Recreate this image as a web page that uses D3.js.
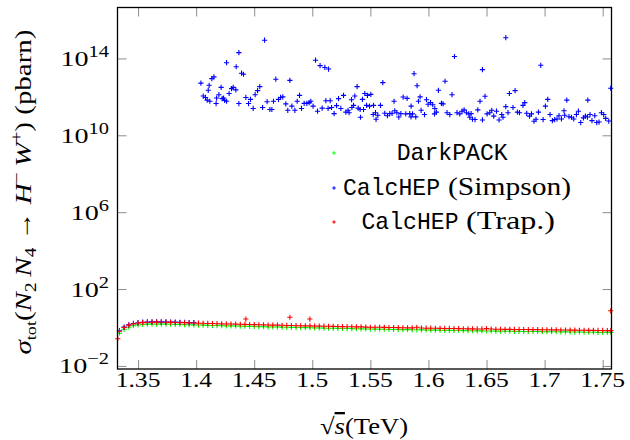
<!DOCTYPE html>
<html>
<head>
<meta charset="utf-8">
<script src="https://cdn.jsdelivr.net/npm/d3@7/dist/d3.min.js"></script>
<style>
  body { margin: 0; background: #fff; }
  svg { display: block; }
</style>
</head>
<body>
<div id="chart"></div>
<script>
// sqrt(s) grid (TeV) shared by the DarkPACK and trapezoid runs
const sqrtS = [
  1.334, 1.338, 1.342, 1.346, 1.350, 1.354, 1.358, 1.362, 1.366, 1.370,
  1.374, 1.378, 1.382, 1.386, 1.390, 1.394, 1.398, 1.402, 1.406, 1.410,
  1.414, 1.418, 1.422, 1.426, 1.430, 1.434, 1.438, 1.442, 1.446, 1.450,
  1.454, 1.458, 1.462, 1.466, 1.470, 1.474, 1.478, 1.482, 1.486, 1.490,
  1.494, 1.498, 1.502, 1.506, 1.510, 1.514, 1.518, 1.522, 1.526, 1.530,
  1.534, 1.538, 1.542, 1.546, 1.550, 1.554, 1.558, 1.562, 1.566, 1.570,
  1.574, 1.578, 1.582, 1.586, 1.590, 1.594, 1.598, 1.602, 1.606, 1.610,
  1.614, 1.618, 1.622, 1.626, 1.630, 1.634, 1.638, 1.642, 1.646, 1.650,
  1.654, 1.658, 1.662, 1.666, 1.670, 1.674, 1.678, 1.682, 1.686, 1.690,
  1.694, 1.698, 1.702, 1.706, 1.710, 1.714, 1.718, 1.722, 1.726, 1.730,
  1.734, 1.738, 1.742, 1.746, 1.750, 1.754, 1.757
];

// sigma_tot in pbarn
const darkpack = [
  0.50, 0.80, 1.05, 1.24, 1.36, 1.44, 1.49, 1.50, 1.50, 1.50,
  1.49, 1.47, 1.45, 1.43, 1.41, 1.38, 1.36, 1.34, 1.32, 1.29,
  1.28, 1.26, 1.24, 1.22, 1.21, 1.20, 1.18, 1.16, 1.14, 1.13,
  1.11, 1.10, 1.08, 1.06, 1.06, 1.04, 1.02, 1.01, 0.99, 0.99,
  0.98, 0.97, 0.95, 0.94, 0.93, 0.92, 0.91, 0.90, 0.89, 0.88,
  0.87, 0.86, 0.85, 0.84, 0.83, 0.82, 0.81, 0.81, 0.80, 0.79,
  0.78, 0.77, 0.77, 0.76, 0.76, 0.75, 0.74, 0.73, 0.73, 0.72,
  0.71, 0.71, 0.70, 0.70, 0.69, 0.68, 0.68, 0.67, 0.67, 0.66,
  0.66, 0.65, 0.65, 0.64, 0.64, 0.63, 0.63, 0.62, 0.62, 0.62,
  0.62, 0.61, 0.61, 0.60, 0.60, 0.59, 0.59, 0.585, 0.58, 0.58,
  0.57, 0.57, 0.57, 0.56, 0.56, 0.555, 0.55
];

const trapezoid = [
  0.64, 1.00, 1.32, 1.55, 1.70, 1.80, 1.86, 1.88, 1.88, 1.88,
  1.86, 1.84, 1.81, 1.78, 1.76, 1.73, 1.70, 1.67, 1.65, 1.62,
  1.60, 1.57, 1.55, 1.53, 1.51, 1.50, 1.47, 1.45, 1.43, 1.41,
  1.39, 1.37, 1.35, 1.33, 1.32, 1.30, 1.28, 1.26, 1.24, 1.23,
  1.22, 1.21, 1.19, 1.18, 1.17, 1.15, 1.14, 1.12, 1.11, 1.10,
  1.09, 1.08, 1.07, 1.05, 1.03, 1.02, 1.02, 1.01, 1.00, 0.99,
  0.98, 0.97, 0.96, 0.95, 1.02, 0.94, 0.92, 0.92, 0.91, 0.90,
  0.89, 0.89, 0.88, 0.87, 0.86, 0.85, 0.85, 0.84, 0.84, 0.87,
  0.83, 0.81, 0.81, 0.80, 0.80, 0.79, 0.79, 0.78, 0.78, 0.77,
  0.77, 0.76, 0.76, 0.75, 0.75, 0.74, 0.74, 0.73, 0.73, 0.72,
  0.72, 0.71, 0.71, 0.70, 0.70, 0.69, 0.69
];

// stray trapezoid points off the curve
const trapExtraX = [1.3325, 1.4428, 1.4807, 1.4979, 1.7569];
const trapExtraY = [0.26, 2.75, 3.4, 2.75, 7.4];

// Simpson rule: [sqrt(s), sigma]
const simpson = [
  [1.334,0.68],[1.338,1.05],[1.342,1.38],[1.346,1.62],[1.350,1.78],[1.354,1.88],[1.358,1.94],[1.362,1.96],
  [1.366,1.97],[1.370,1.96],[1.374,1.94],[1.378,1.92],[1.382,1.89],[1.386,1.86],[1.390,1.83],[1.394,1.80],[1.398,1.77],
  [1.4589,8.9e14],[1.4368,2.0e14],[1.4262,6.0e13],[1.4345,3.7e13],[1.4391,1.7e13],[1.4408,1.5e13],[1.4041,5.2e12],
  [1.4153,1.1e13],[1.4135,8.9e12],[1.4112,4.0e12],[1.4104,2.2e12],[1.4215,3.1e12],[1.4319,3.1e12],[1.4305,2.7e12],
  [1.4342,2.3e12],[1.4284,1.5e12],[1.4061,1.1e12],[1.4081,9.3e11],[1.4095,6.8e11],[1.4118,5.9e11],[1.4176,8.7e11],
  [1.4172,4.5e11],[1.4196,1.3e12],[1.4224,8.1e11],[1.4236,8.7e11],[1.4245,6.6e11],[1.4262,5.9e11],[1.4368,4.5e11],
  [1.4428,9.3e11],[1.4451,4.5e11],[1.4468,7.4e11],[1.4491,2.5e11],[1.4508,1.3e12],[1.4529,2.1e12],[1.4548,3.4e12],
  [1.4572,2.8e11],[1.4611,5.6e11],[1.4635,2.2e11],[1.4652,2.2e11],[1.4686,8.3e12],[1.4666,5.9e11],[1.4709,7.4e11],
  [1.4727,9.3e11],[1.4746,1.0e12],[1.4772,4.3e11],[1.4807,7.2e12],[1.4789,2.0e11],[1.4824,3.3e11],[1.4850,2.0e11],
  [1.4870,5.9e11],[1.4890,1.2e12],
  [1.5028,8.1e13],[1.5067,4.2e13],[1.5108,3.4e13],[1.5140,2.8e13],[1.4907,2.5e11],[1.4930,4.6e11],[1.4953,4.6e11],
  [1.4973,5.0e11],[1.4987,5.9e11],[1.5007,3.3e11],[1.5045,1.8e11],[1.5085,2.6e11],[1.5117,6.3e11],[1.5154,6.3e11],
  [1.5136,2.5e11],[1.5166,2.8e11],[1.5188,1.35e11],[1.5209,3.5e11],[1.5226,8.1e11],[1.5246,2.5e11],[1.5269,1.2e12],
  [1.5289,1.6e11],[1.5308,2.0e11],[1.5317,1.5e11],[1.5338,7.1e11],[1.5341,2.8e11],[1.5355,3.6e11],[1.5366,1.1e12],
  [1.5386,3.4e12],[1.5395,2.6e11],[1.5412,2.2e11],[1.5415,8.7e10],[1.5432,7.4e11],[1.5441,2.2e11],[1.5452,1.5e12],
  [1.5475,1.2e12],[1.5504,1.35e12],[1.5467,3.6e11],[1.5493,3.3e11],[1.5527,3.6e11],[1.5524,1.2e11],[1.5544,1.5e11],
  [1.5564,1.1e11],[1.5549,6.8e10],[1.5587,3.6e11],[1.5607,5.5e12],[1.5624,1.4e11],[1.5647,1.05e11],[1.5667,1.35e11],
  [1.5687,1.4e11],[1.5704,5.9e11],[1.5710,1.9e11],[1.5728,1.5e11],[1.5745,8.9e10],[1.5762,1.35e11],[1.5782,9.8e11],
  [1.6666,1.2e15],[1.6224,1.26e14],[1.6465,2.6e13],[1.5876,1.6e13],[1.5902,3.8e12],[1.6143,6.5e12],[1.6086,2.2e12],
  [1.6203,1.3e12],[1.5816,8.3e11],[1.5928,1.0e12],[1.5914,5.9e11],[1.5851,3.3e11],[1.5983,7.1e11],[1.5997,4.1e11],
  [1.6018,5.0e11],[1.6037,3.9e11],[1.6055,2.5e11],[1.6112,4.6e11],[1.6126,4.3e11],[1.6069,1.6e11],[1.6052,1.3e11],
  [1.5937,2.0e11],[1.5966,1.2e11],[1.5805,1.3e11],[1.5839,1.35e11],[1.5863,1.3e11],[1.5891,9.1e10],[1.5850,9.1e10],
  [1.6160,1.5e11],[1.6184,1.2e11],[1.6246,1.5e11],[1.6270,1.3e11],[1.6289,1.8e11],[1.6307,2.1e11],[1.6327,1.5e11],
  [1.6347,1.3e11],[1.6367,1.35e11],[1.6356,8.7e10],[1.6379,6.9e10],[1.6401,6.6e10],[1.6425,2.1e11],[1.6444,5.9e11],
  [1.6487,1.07e12],[1.6465,6.3e10],[1.6505,1.3e11],[1.6528,1.5e11],[1.6545,2.0e11],[1.6586,1.8e11],[1.6562,1.0e11],
  [1.6608,6.3e10],[1.6631,1.2e11],[1.6642,8.7e10],[1.6666,3.1e11],[1.6685,1.5e11],[1.6697,1.5e12],
  [1.6967,4.4e13],[1.6746,2.1e12],[1.6728,2.8e11],[1.6766,1.6e11],[1.6784,1.5e11],[1.6814,3.6e11],[1.6829,5.0e11],
  [1.6846,1.4e11],[1.6870,1.0e11],[1.6887,1.3e11],[1.6909,5.4e10],[1.6926,6.8e10],[1.6947,1.6e11],[1.6987,6.6e10],
  [1.7007,3.3e11],[1.7027,7.4e11],[1.7047,1.2e11],[1.7067,5.8e10],[1.7087,6.6e10],[1.7107,7.1e10],[1.7124,1.05e11],
  [1.7145,7.1e10],[1.7167,1.9e11],[1.7173,1.1e11],[1.7191,6.8e11],[1.7210,9.3e10],[1.7231,8.7e10],[1.7251,7.1e10],
  [1.7274,1.2e11],[1.7291,1.8e11],[1.7311,4.6e10],[1.7334,8.1e10],[1.7351,1.0e11],[1.7369,8.9e10],[1.7391,1.2e11],
  [1.7432,1.05e11],[1.7372,6.8e11],[1.7408,5.8e10],[1.7449,4.6e10],[1.7469,4.9e10],[1.7489,1.5e11],[1.7509,1.2e11],
  [1.7526,7.6e10],[1.7552,5.5e10],[1.7569,2.8e12]
];

const xTicks = [1.35, 1.4, 1.45, 1.5, 1.55, 1.6, 1.65, 1.7, 1.75];
const yTickExp = [-2, 2, 6, 10, 14];

const width = 630, height = 440;
const plot = { left: 117.5, right: 611.5, top: 7.5, bottom: 369 };

const svg = d3.select("#chart").append("svg")
  .attr("width", width)
  .attr("height", height);

const x = d3.scaleLinear().domain([1.3323, 1.7576]).range([plot.left, plot.right]);
const y = d3.scaleLog().domain([Math.pow(10, -2.16), Math.pow(10, 16.65)]).range([plot.bottom, plot.top]);

// ticks (inward, all four sides)
function tickStyle(g) {
  g.select(".domain").remove();
  g.selectAll(".tick line").attr("stroke", "#808080").attr("stroke-width", 0.9);
}
svg.append("g").attr("transform", `translate(0,${plot.bottom})`)
  .call(d3.axisBottom(x).tickValues(xTicks).tickSizeInner(-9).tickSizeOuter(0).tickFormat(""))
  .call(tickStyle);
svg.append("g").attr("transform", `translate(0,${plot.top})`)
  .call(d3.axisTop(x).tickValues(xTicks).tickSizeInner(-9).tickSizeOuter(0).tickFormat(""))
  .call(tickStyle);
const yTickVals = yTickExp.map(e => Math.pow(10, e));
svg.append("g").attr("transform", `translate(${plot.left},0)`)
  .call(d3.axisLeft(y).tickValues(yTickVals).tickSizeInner(-9).tickSizeOuter(0).tickFormat(""))
  .call(tickStyle);
svg.append("g").attr("transform", `translate(${plot.right},0)`)
  .call(d3.axisRight(y).tickValues(yTickVals).tickSizeInner(-9).tickSizeOuter(0).tickFormat(""))
  .call(tickStyle);

// tick labels, stretched a bit sideways like the source
const serif = "'Liberation Serif', 'Times New Roman', serif";
const mono = "'Liberation Mono', 'DejaVu Sans Mono', monospace";

xTicks.forEach(t => {
  svg.append("text")
    .attr("transform", `translate(${x(t)},387) scale(1.22,1)`)
    .attr("text-anchor", "middle")
    .style("font-family", serif)
    .style("font-size", "21px")
    .text(String(t));
});

yTickExp.forEach(e => {
  const t = svg.append("text")
    .attr("transform", `translate(109,${y(Math.pow(10, e)) + 7.5}) scale(1.28,1)`)
    .attr("text-anchor", "end")
    .style("font-family", serif)
    .style("font-size", "22px");
  t.append("tspan").text("10");
  t.append("tspan").attr("dy", -9).style("font-size", "16px")
    .text(e < 0 ? "\u2212" + Math.abs(e) : String(e));
});

// markers
const plus = h => `M${-h},0H${h}M0,${-h}V${h}`;
function drawSeries(pts, color, h) {
  svg.append("g").selectAll("path")
    .data(pts)
    .enter()
    .append("path")
    .attr("transform", d => `translate(${x(d[0])},${y(d[1])})`)
    .attr("d", plus(h))
    .attr("fill", "none")
    .attr("stroke", color)
    .attr("stroke-width", 1.1);
}

const greenPts = sqrtS.map((s, i) => [s, darkpack[i]]);
const redPts = sqrtS.map((s, i) => [s, trapezoid[i]])
  .concat(trapExtraX.map((s, i) => [s, trapExtraY[i]]));

drawSeries(greenPts, "#00ff00", 2.6);
drawSeries(simpson, "#0000ff", 2.6);
drawSeries(redPts, "#ff0000", 2.6);

// frame
svg.append("rect")
  .attr("x", plot.left).attr("y", plot.top)
  .attr("width", plot.right - plot.left)
  .attr("height", plot.bottom - plot.top)
  .attr("fill", "none")
  .attr("stroke", "#000")
  .attr("stroke-width", 1.3);

// legend: each piece gets its own start and width
const legendColors = ["#00ff00", "#0000ff", "#ff0000"];
const legendBase = [160, 195, 229];
const legendParts = [
  [["DarkPACK", mono, 396.7, 111]],
  [["CalcHEP", mono, 343, 97], ["(Simpson)", serif, 448, 123]],
  [["CalcHEP", mono, 361.5, 97], ["(Trap.)", serif, 466, 89]]
];

legendParts.forEach((parts, i) => {
  svg.append("path")
    .attr("transform", `translate(334,${legendBase[i] - 7})`)
    .attr("d", plus(1.8))
    .attr("stroke", legendColors[i])
    .attr("stroke-width", 1);
  parts.forEach(p => {
    svg.append("text")
      .attr("x", p[2])
      .attr("y", legendBase[i])
      .attr("textLength", p[3])
      .attr("lengthAdjust", "spacingAndGlyphs")
      .style("font-family", p[1])
      .style("font-size", p[1] === mono ? "24px" : "25px")
      .text(p[0]);
  });
});

// x axis title
const xt = svg.append("text")
  .attr("x", 364).attr("y", 434)
  .attr("text-anchor", "middle")
  .attr("textLength", 88)
  .attr("lengthAdjust", "spacingAndGlyphs")
  .style("font-family", serif)
  .style("font-size", "23px");
xt.append("tspan").text("\u221a");
xt.append("tspan").style("font-style", "italic").style("text-decoration", "overline").text("s");
xt.append("tspan").text("(TeV)");

// y axis title, rotated
const yt = svg.append("text")
  .attr("transform", "translate(31,192) rotate(-90)")
  .attr("text-anchor", "middle")
  .attr("textLength", 325)
  .attr("lengthAdjust", "spacingAndGlyphs")
  .style("font-family", serif)
  .style("font-size", "24px");
const segs = [
  ["\u03c3", 0, 24, true], ["tot", 5, 15, false], ["(", 0, 24, false],
  ["N", 0, 24, true], ["2", 5, 16, false], ["\u2009N", 0, 24, true], ["4", 5, 16, false],
  [" \u2192 ", 0, 24, false], ["H", 0, 24, true], ["\u2212", -9, 16, false],
  ["\u2009W", 0, 24, true], ["+", -9, 16, false], [")", 0, 24, false], [" (pbarn)", 0, 24, false]
];
let shift = 0;
segs.forEach(s => {
  yt.append("tspan")
    .attr("dy", s[1] - shift)
    .style("font-size", s[2] + "px")
    .style("font-style", s[3] ? "italic" : "normal")
    .text(s[0]);
  shift = s[1];
});
</script>
</body>
</html>
